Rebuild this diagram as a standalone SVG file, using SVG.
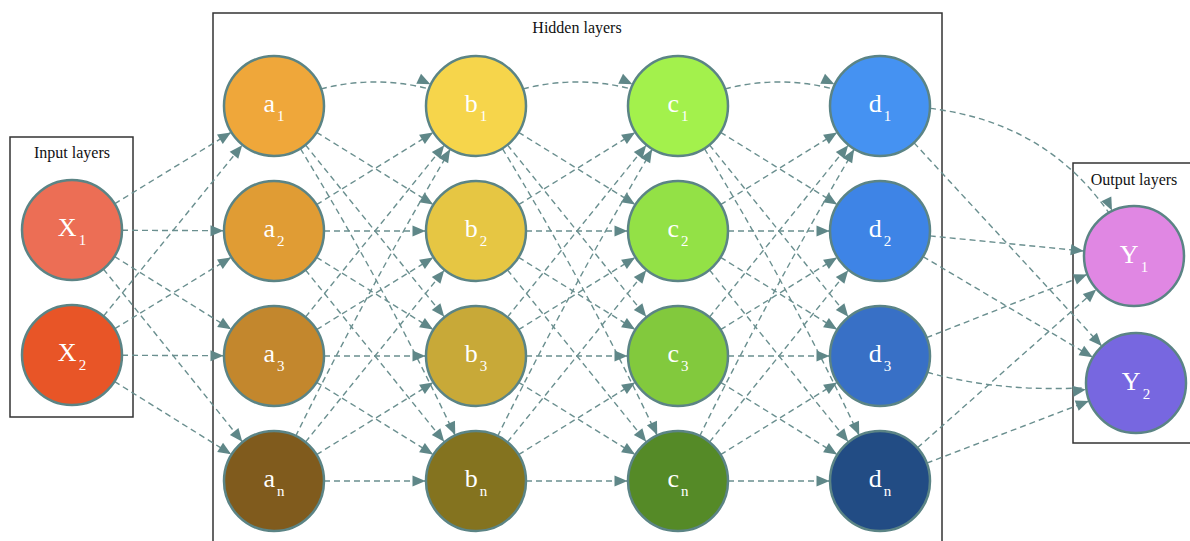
<svg xmlns="http://www.w3.org/2000/svg" width="1190" height="541" viewBox="0 0 1190 541">
<style>
.box{fill:none;stroke:#333;stroke-width:1.5}
.lbl{font-family:"Liberation Serif",serif;font-size:16px;fill:#111;text-anchor:middle}
.e{fill:none;stroke:#6a8f8f;stroke-width:1.4;stroke-dasharray:6 4;marker-end:url(#ah)}
.n circle{stroke:#5b8485;stroke-width:2.5}
.n text{font-family:"Liberation Serif",serif;font-size:26px;fill:#fff;text-anchor:middle}
.n tspan{font-size:15px}
</style>
<defs>
<marker id="ah" markerUnits="userSpaceOnUse" orient="auto" refX="63.5" refY="0" markerWidth="14" markerHeight="14" overflow="visible">
<path d="M0,-5.5 L13,0 L0,5.5 Z" fill="#5f8788"/>
</marker>
</defs>
<rect width="1190" height="541" fill="#fff"/>
<g id="clusters">
<rect class="box" x="10" y="137" width="123" height="280"/>
<text class="lbl" x="72" y="158">Input layers</text>
<rect class="box" x="213" y="13" width="729" height="540"/>
<text class="lbl" x="577" y="33">Hidden layers</text>
<rect class="box" x="1073" y="163" width="140" height="280"/>
<text class="lbl" x="1134" y="185">Output layers</text>
</g>
<g id="connectors">
<path class="e" d="M72 230 L274 106"/>
<path class="e" d="M72 230 L274 231"/>
<path class="e" d="M72 230 L274 356"/>
<path class="e" d="M72 230 L274 481"/>
<path class="e" d="M72 355 L274 106"/>
<path class="e" d="M72 355 L274 231"/>
<path class="e" d="M72 355 L274 356"/>
<path class="e" d="M72 355 L274 481"/>

<path class="e" d="M274 106 Q375 58 476 106"/>
<path class="e" d="M274 106 L476 231"/>
<path class="e" d="M274 106 L476 356"/>
<path class="e" d="M274 106 Q390 290 476 481"/>
<path class="e" d="M274 231 L476 106"/>
<path class="e" d="M274 231 L476 231"/>
<path class="e" d="M274 231 L476 356"/>
<path class="e" d="M274 231 L476 481"/>
<path class="e" d="M274 356 L476 106"/>
<path class="e" d="M274 356 L476 231"/>
<path class="e" d="M274 356 L476 356"/>
<path class="e" d="M274 356 L476 481"/>
<path class="e" d="M274 481 Q360 300 476 106"/>
<path class="e" d="M274 481 L476 231"/>
<path class="e" d="M274 481 L476 356"/>
<path class="e" d="M274 481 L476 481"/>

<path class="e" d="M476 106 Q577 58 678 106"/>
<path class="e" d="M476 106 L678 231"/>
<path class="e" d="M476 106 L678 356"/>
<path class="e" d="M476 106 Q592 290 678 481"/>
<path class="e" d="M476 231 L678 106"/>
<path class="e" d="M476 231 L678 231"/>
<path class="e" d="M476 231 L678 356"/>
<path class="e" d="M476 231 L678 481"/>
<path class="e" d="M476 356 L678 106"/>
<path class="e" d="M476 356 L678 231"/>
<path class="e" d="M476 356 L678 356"/>
<path class="e" d="M476 356 L678 481"/>
<path class="e" d="M476 481 Q562 300 678 106"/>
<path class="e" d="M476 481 L678 231"/>
<path class="e" d="M476 481 L678 356"/>
<path class="e" d="M476 481 L678 481"/>

<path class="e" d="M678 106 Q779 58 880 106"/>
<path class="e" d="M678 106 L880 231"/>
<path class="e" d="M678 106 L880 356"/>
<path class="e" d="M678 106 Q794 290 880 481"/>
<path class="e" d="M678 231 L880 106"/>
<path class="e" d="M678 231 L880 231"/>
<path class="e" d="M678 231 L880 356"/>
<path class="e" d="M678 231 L880 481"/>
<path class="e" d="M678 356 L880 106"/>
<path class="e" d="M678 356 L880 231"/>
<path class="e" d="M678 356 L880 356"/>
<path class="e" d="M678 356 L880 481"/>
<path class="e" d="M678 481 Q764 300 880 106"/>
<path class="e" d="M678 481 L880 231"/>
<path class="e" d="M678 481 L880 356"/>
<path class="e" d="M678 481 L880 481"/>

<path class="e" d="M880 106 Q1060 103 1134 256"/>
<path class="e" d="M880 106 L1136 383"/>
<path class="e" d="M880 231 L1134 256"/>
<path class="e" d="M880 231 L1136 383"/>
<path class="e" d="M880 356 L1134 256"/>
<path class="e" d="M880 356 Q990 402 1136 383"/>
<path class="e" d="M880 481 L1134 256"/>
<path class="e" d="M880 481 L1136 383"/>
</g>
<g id="X1" class="n"><circle cx="72" cy="230" r="50" fill="#ec6e55"/><text x="72" y="236">X<tspan dx="2" dy="9">1</tspan></text></g>
<g id="X2" class="n"><circle cx="72" cy="355" r="50" fill="#e85527"/><text x="72" y="361">X<tspan dx="2" dy="9">2</tspan></text></g>

<g id="a1" class="n"><circle cx="274" cy="106" r="50" fill="#efa73a"/><text x="274" y="112">a<tspan dx="2" dy="9">1</tspan></text></g>
<g id="a2" class="n"><circle cx="274" cy="231" r="50" fill="#e09c34"/><text x="274" y="237">a<tspan dx="2" dy="9">2</tspan></text></g>
<g id="a3" class="n"><circle cx="274" cy="356" r="50" fill="#c3872d"/><text x="274" y="362">a<tspan dx="2" dy="9">3</tspan></text></g>
<g id="an" class="n"><circle cx="274" cy="481" r="50" fill="#805b1d"/><text x="274" y="487">a<tspan dx="2" dy="9">n</tspan></text></g>

<g id="b1" class="n"><circle cx="476" cy="106" r="50" fill="#f6d54b"/><text x="476" y="112">b<tspan dx="2" dy="9">1</tspan></text></g>
<g id="b2" class="n"><circle cx="476" cy="231" r="50" fill="#e6c643"/><text x="476" y="237">b<tspan dx="2" dy="9">2</tspan></text></g>
<g id="b3" class="n"><circle cx="476" cy="356" r="50" fill="#c8a938"/><text x="476" y="362">b<tspan dx="2" dy="9">3</tspan></text></g>
<g id="bn" class="n"><circle cx="476" cy="481" r="50" fill="#84731f"/><text x="476" y="487">b<tspan dx="2" dy="9">n</tspan></text></g>

<g id="c1" class="n"><circle cx="678" cy="106" r="50" fill="#a3f14c"/><text x="678" y="112">c<tspan dx="2" dy="9">1</tspan></text></g>
<g id="c2" class="n"><circle cx="678" cy="231" r="50" fill="#93e146"/><text x="678" y="237">c<tspan dx="2" dy="9">2</tspan></text></g>
<g id="c3" class="n"><circle cx="678" cy="356" r="50" fill="#82c93d"/><text x="678" y="362">c<tspan dx="2" dy="9">3</tspan></text></g>
<g id="cn" class="n"><circle cx="678" cy="481" r="50" fill="#558a27"/><text x="678" y="487">c<tspan dx="2" dy="9">n</tspan></text></g>

<g id="d1" class="n"><circle cx="880" cy="106" r="50" fill="#4592f2"/><text x="880" y="112">d<tspan dx="2" dy="9">1</tspan></text></g>
<g id="d2" class="n"><circle cx="880" cy="231" r="50" fill="#3e84e6"/><text x="880" y="237">d<tspan dx="2" dy="9">2</tspan></text></g>
<g id="d3" class="n"><circle cx="880" cy="356" r="50" fill="#3870c6"/><text x="880" y="362">d<tspan dx="2" dy="9">3</tspan></text></g>
<g id="dn" class="n"><circle cx="880" cy="481" r="50" fill="#224c84"/><text x="880" y="487">d<tspan dx="2" dy="9">n</tspan></text></g>

<g id="Y1" class="n"><circle cx="1134" cy="256" r="50" fill="#e087e3"/><text x="1134" y="263">Y<tspan dx="2" dy="9">1</tspan></text></g>
<g id="Y2" class="n"><circle cx="1136" cy="383" r="50" fill="#7767e0"/><text x="1136" y="390">Y<tspan dx="2" dy="9">2</tspan></text></g>
</svg>
